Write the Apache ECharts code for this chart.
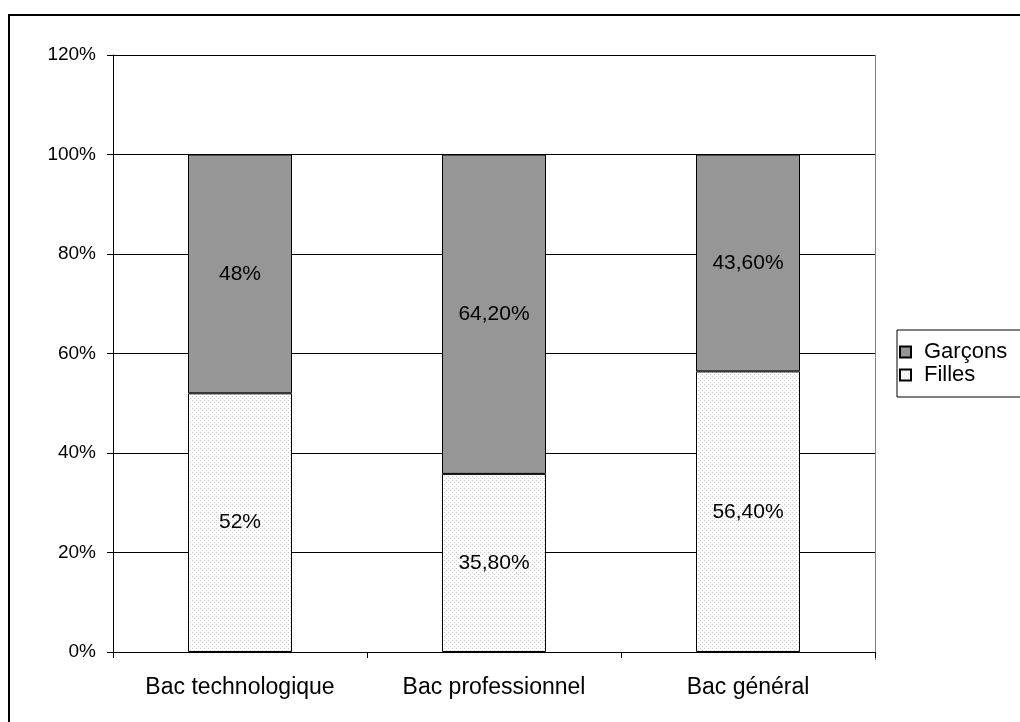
<!DOCTYPE html>
<html>
<head>
<meta charset="utf-8">
<script src="https://cdn.jsdelivr.net/npm/echarts@6/dist/echarts.min.js"></script>
<style>
  html, body { margin: 0; padding: 0; background: #fff; }
  #chart { width: 1020px; height: 722px; }
</style>
</head>
<body>
<div id="chart"></div>
<script>
// Répartition filles / garçons par type de baccalauréat (en %)
const categories = ['Bac technologique', 'Bac professionnel', 'Bac général'];
const filles = [52, 35.8, 56.4];
const garcons = [48, 64.2, 43.6];

const FONT = '"Liberation Sans", Arial, sans-serif';

// French-style percentage: integer as is, otherwise two decimals with a comma
function pct(v) {
  return Number.isInteger(v) ? v + '%' : v.toFixed(2).replace('.', ',') + '%';
}

// Dotted fill used for the "Filles" segments
function dotPattern() {
  const c = document.createElement('canvas');
  c.width = 4; c.height = 4;
  const g = c.getContext('2d');
  g.fillStyle = '#ffffff';
  g.fillRect(0, 0, 4, 4);
  g.fillStyle = '#c6c6c6';
  g.fillRect(0, 0, 1, 1);
  g.fillRect(2, 2, 1, 1);
  return c;
}

const chart = echarts.init(document.getElementById('chart'), null, { renderer: 'canvas' });

const labelStyle = {
  show: true,
  position: 'inside',
  color: '#000',
  fontFamily: FONT,
  fontSize: 21,
  formatter: p => pct(p.value)
};

chart.setOption({
  animation: false,
  backgroundColor: '#fff',
  textStyle: { fontFamily: FONT },
  grid: { left: 113, right: 145, top: 55, bottom: 70, containLabel: false },
  legend: {
    orient: 'vertical',
    left: 897,
    top: 330,
    data: ['Garçons', 'Filles'],
    itemWidth: 11,
    itemHeight: 11,
    itemGap: 1,
    icon: 'rect',
    padding: [11, 40, 11, 2],
    borderColor: '#000',
    borderWidth: 1,
    textStyle: { fontFamily: FONT, fontSize: 22, lineHeight: 22, color: '#000', padding: [0, 0, 0, 8] }
  },
  xAxis: {
    type: 'category',
    data: categories,
    axisLine: { lineStyle: { color: '#000', width: 1 } },
    axisTick: { show: true, length: 6, alignWithLabel: false, lineStyle: { color: '#000' } },
    axisLabel: { color: '#000', fontFamily: FONT, fontSize: 23, margin: 24 },
    splitLine: { show: false }
  },
  yAxis: {
    type: 'value',
    min: 0,
    max: 120,
    interval: 20,
    axisLine: { show: true, lineStyle: { color: '#000', width: 1 } },
    axisTick: { show: true, length: 6, lineStyle: { color: '#000' } },
    axisLabel: { color: '#000', fontFamily: FONT, fontSize: 19, margin: 17, formatter: v => v + '%' },
    splitLine: { show: true, lineStyle: { color: '#000', width: 1 } }
  },
  series: [
    {
      name: 'Filles',
      type: 'bar',
      stack: 'bac',
      barWidth: 104,
      data: filles,
      itemStyle: {
        color: { image: dotPattern(), repeat: 'repeat' },
        borderColor: '#000',
        borderWidth: 1
      },
      label: labelStyle
    },
    {
      name: 'Garçons',
      type: 'bar',
      stack: 'bac',
      barWidth: 104,
      data: garcons,
      itemStyle: { color: '#969696', borderColor: '#000', borderWidth: 1 },
      label: labelStyle
    }
  ],
  graphic: [
    // chart frame (left and top edges visible)
    {
      type: 'rect',
      shape: { x: 9, y: 15, width: 1200, height: 900 },
      style: { fill: 'none', stroke: '#000', lineWidth: 2 },
      silent: true
    },
    // right edge of the plot area
    {
      type: 'line',
      shape: { x1: 875.5, y1: 55, x2: 875.5, y2: 660 },
      style: { stroke: '#808080', lineWidth: 1 },
      silent: true
    }
  ]
});
</script>
</body>
</html>
